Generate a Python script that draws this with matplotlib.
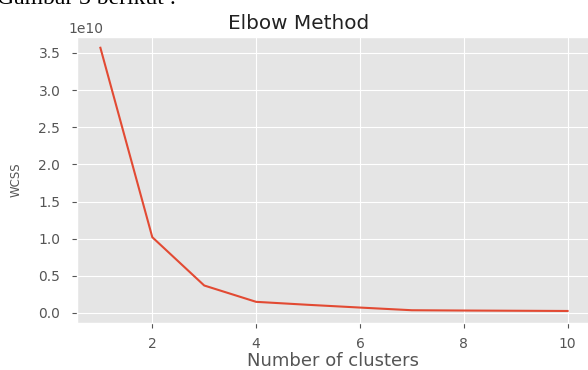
import matplotlib
matplotlib.use("Agg")
import matplotlib.pyplot as plt

plt.style.use("ggplot")

# WCSS per cluster count
n_clusters = [1, 2, 3, 4, 5, 6, 7, 8, 9, 10]
wcss = [3.57e10, 1.02e10, 0.37e10, 0.15e10, 0.11e10, 0.073e10,
        0.037e10, 0.033e10, 0.03e10, 0.027e10]

fig = plt.figure(figsize=(5.88, 3.70), dpi=100)
ax = fig.add_axes([0.131, 0.127, 0.874, 0.773])

ax.plot(n_clusters, wcss, color="#E24A33", linewidth=1.5)
ax.set_xlim(0.55, 10.45)
ax.set_ylim(-0.135e10, 3.715e10)
ax.set_xticks([2, 4, 6, 8, 10])
ax.set_yticks([0, 0.5e10, 1.0e10, 1.5e10, 2.0e10, 2.5e10, 3.0e10, 3.5e10])

# title sits left of the axes centre in the (cropped) reference
ax.set_title("Elbow Method", fontsize=14.4, color="#222222", x=0.431, pad=6)
ax.set_xlabel("Number of clusters", fontsize=13)
ax.xaxis.set_label_coords(0.498, -0.1)
ax.set_ylabel("WCSS", fontsize=8.5)
ax.yaxis.set_label_coords(-0.105, 0.5)
ax.tick_params(labelsize=10)
ax.tick_params(axis="x", pad=6.5)
ax.tick_params(axis="y", pad=8.5)
ax.yaxis.get_offset_text().set_x(-0.0175)

# caption fragment cut off at the top of the reference screenshot
fig.text(-0.005, 1 - 4 / 370, "Gambar 3 berikut :", family="Liberation Serif",
         fontsize=17, va="baseline", ha="left", color="black")

fig.savefig("out.png", dpi=100)
plt.close(fig)
